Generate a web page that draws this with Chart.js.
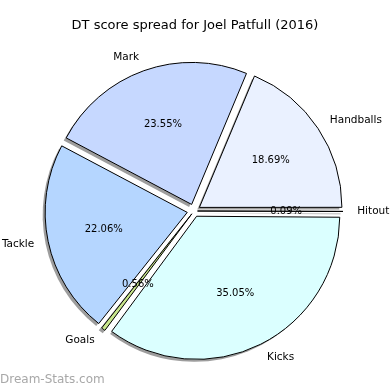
<!DOCTYPE html>
<html>
<head>
<meta charset="utf-8">
<script src="https://cdn.jsdelivr.net/npm/chart.js@4.4.1/dist/chart.umd.min.js"></script>
<style>
  html, body { margin: 0; padding: 0; background: #fff; }
  #wrap { width: 390px; height: 390px; }
</style>
</head>
<body>
<div id="wrap"><canvas id="pieChart" width="390" height="390"></canvas></div>
<script>
// drawn clockwise from 3 o'clock, so this is matplotlib's order reversed
const categories = ["Hitout", "Kicks", "Goals", "Tackle", "Mark", "Handballs"];
const shares = [0.09, 35.05, 0.56, 22.06, 23.55, 18.69];
const sliceColors = ["#f0f0ff", "#dbffff", "#c8e68c", "#b5d6ff", "#c6d8ff", "#eaf1ff"];
const chartTitle = "DT score spread for Joel Patfull (2016)";

const FONT = "DejaVu Sans, Verdana, sans-serif";
const EXPLODE = 7; // px every slice is pushed out

// Chart.js v4 moves an arc by offset/4 * (2 - sin(min(PI, circ))),
// so pick the option that gives EXPLODE pixels for each slice
function sliceFix(circ) {
  return 1 - Math.sin(Math.min(Math.PI, circ));
}
function offsetFor(ctx) {
  const total = shares.reduce((a, b) => a + b, 0);
  const circ = 2 * Math.PI * shares[ctx.dataIndex] / total;
  return EXPLODE * 4 / (1 + sliceFix(circ));
}
function shiftOf(arc) {
  return arc.options.offset / 4 * (1 + sliceFix(arc.circumference));
}

// grey copy of each slice, nudged down-left, drawn before the pie
const shadowPlugin = {
  id: "shadow",
  beforeDatasetsDraw(chart) {
    const ctx = chart.ctx;
    const arcs = chart.getDatasetMeta(0).data;
    ctx.save();
    ctx.fillStyle = "rgba(60,60,60,0.5)";
    arcs.forEach((arc) => {
      const p = arc.getProps(["x", "y", "startAngle", "endAngle", "outerRadius"], true);
      const mid = (p.startAngle + p.endAngle) / 2;
      const off = shiftOf(arc);
      const cx = p.x + Math.cos(mid) * off - 2.5;
      const cy = p.y + Math.sin(mid) * off + 2.5;
      ctx.beginPath();
      ctx.moveTo(cx, cy);
      ctx.arc(cx, cy, p.outerRadius, p.startAngle, p.endAngle);
      ctx.closePath();
      ctx.fill();
    });
    ctx.restore();
  }
};

const textPlugin = {
  id: "pieText",
  afterDatasetsDraw(chart) {
    const ctx = chart.ctx;
    const arcs = chart.getDatasetMeta(0).data;
    ctx.save();
    ctx.fillStyle = "#000";
    ctx.textBaseline = "middle";
    arcs.forEach((arc, i) => {
      const p = arc.getProps(["x", "y", "startAngle", "endAngle", "outerRadius"], true);
      const mid = (p.startAngle + p.endAngle) / 2;
      const off = shiftOf(arc);
      const cx = p.x + Math.cos(mid) * off;
      const cy = p.y + Math.sin(mid) * off;
      const lx = cx + Math.cos(mid) * p.outerRadius * 1.1;
      const ly = cy + Math.sin(mid) * p.outerRadius * 1.1;
      ctx.font = "10.5px " + FONT;
      ctx.textAlign = Math.cos(mid) > 0 ? "left" : "right";
      ctx.fillText(categories[i], lx, ly);
      ctx.font = "10px " + FONT;
      ctx.textAlign = "center";
      ctx.fillText(shares[i].toFixed(2) + "%",
        cx + Math.cos(mid) * p.outerRadius * 0.6,
        cy + Math.sin(mid) * p.outerRadius * 0.6);
    });
    ctx.font = "13px " + FONT;
    ctx.textAlign = "center";
    ctx.fillText(chartTitle, 195, 26);
    ctx.font = "12px " + FONT;
    ctx.textAlign = "left";
    ctx.fillStyle = "#a8a8a8";
    ctx.fillText("Dream-Stats.com", 0, 380);
    ctx.restore();
  }
};

new Chart(document.getElementById("pieChart"), {
  type: "pie",
  data: {
    labels: categories,
    datasets: [{
      data: shares,
      backgroundColor: sliceColors,
      borderColor: "#000",
      borderWidth: 1,
      offset: offsetFor,
      hoverOffset: 0
    }]
  },
  options: {
    responsive: false,
    animation: false,
    events: [],
    rotation: 90,
    radius: 142,
    layout: { padding: { top: 40, bottom: 8, left: 0, right: 2 } },
    plugins: {
      legend: { display: false },
      tooltip: { enabled: false },
      title: { display: false }
    }
  },
  plugins: [shadowPlugin, textPlugin]
});
</script>
</body>
</html>
